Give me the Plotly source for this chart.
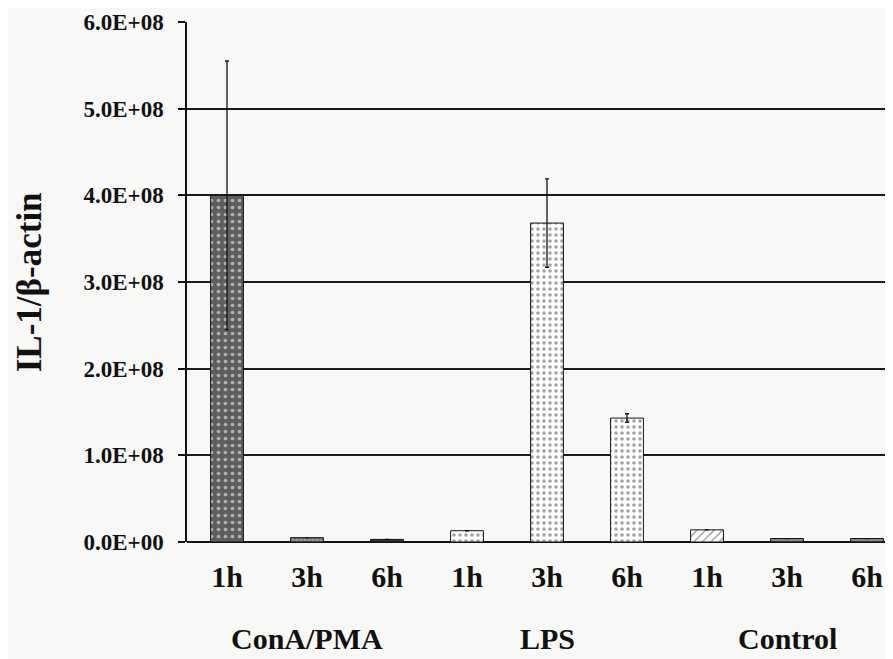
import plotly.graph_objects as go

# ---- data ----
groups = ["ConA/PMA", "LPS", "Control"]
times = ["1h", "3h", "6h", "1h", "3h", "6h", "1h", "3h", "6h"]
values = [4.0e8, 5.0e6, 3.0e6, 1.3e7, 3.68e8, 1.43e8, 1.4e7, 4.0e6, 4.0e6]
errors = [1.55e8, 0, 0, 0, 5.1e7, 5.0e6, 0, 0, 0]
ytick_vals = [0, 1e8, 2e8, 3e8, 4e8, 5e8, 6e8]
ytick_text = ["0.0E+00", "1.0E+08", "2.0E+08", "3.0E+08", "4.0E+08", "5.0E+08", "6.0E+08"]

# ---- styles ----
pos = list(range(len(values)))
fills = ["#5e5e5e", "#6a6a6a", "#333333", "#ffffff", "#ffffff", "#ffffff", "#ffffff", "#555555", "#555555"]
fgcols = ["#ffffff", "#ffffff", "#ffffff", "#555555", "#555555", "#555555", "#333333", "#ffffff", "#ffffff"]
shapes = [".", "+", "", ".", ".", ".", "/", "-", "-"]
sizes = [7, 4, 6, 6, 6, 6, 6, 4, 4]
solid = [0.22, 0.3, 0.3, 0.28, 0.28, 0.28, 0.25, 0.3, 0.3]

serif = "Liberation Serif"
bg = "#f8f8f6"
ink = "#111111"

fig = go.Figure()
fig.add_trace(go.Bar(
    x=pos, y=values, width=0.41,
    marker=dict(
        color=fills,
        line=dict(color=ink, width=1),
        pattern=dict(shape=shapes, fgcolor=fgcols, size=sizes,
                     solidity=solid, fillmode="overlay"),
    ),
    error_y=dict(type="data", array=errors, visible=True, color=ink,
                 thickness=1.3, width=2),
    showlegend=False,
))

for i, g in enumerate(groups):
    fig.add_annotation(x=3 * i + 1, y=-0.186, xref="x", yref="paper", text="<b>%s</b>" % g,
                       showarrow=False, font=dict(family=serif, size=30, color=ink),
                       xanchor="center", yanchor="middle")

fig.add_annotation(x=-0.226, y=0.5, xref="paper", yref="paper", text="<b>IL-1/β-actin</b>",
                   textangle=-90, showarrow=False,
                   font=dict(family=serif, size=35, color=ink),
                   xanchor="center", yanchor="middle")

fig.update_layout(
    width=877, height=651,
    margin=dict(l=179, r=0, t=14, b=117),
    paper_bgcolor=bg, plot_bgcolor=bg,
    xaxis=dict(range=[-0.5, 8.225], tickvals=pos, ticktext=["<b>%s</b>" % t for t in times],
               tickfont=dict(family=serif, size=30, color=ink),
               showgrid=False, zeroline=False, showline=False, ticks="",
               ticklabelstandoff=14),
    yaxis=dict(range=[0, 6e8], tickvals=ytick_vals, ticktext=["<b>%s</b>" % t for t in ytick_text],
               tickfont=dict(family=serif, size=23, color=ink),
               showgrid=True, gridcolor="#1a1a1a", gridwidth=1.5,
               zeroline=True, zerolinecolor=ink, zerolinewidth=1.6,
               showline=True, linecolor=ink, linewidth=1.5,
               ticks="outside", ticklen=7, tickcolor=ink, tickwidth=1.5,
               ticklabelstandoff=10),
)

fig.write_html("out.html")
